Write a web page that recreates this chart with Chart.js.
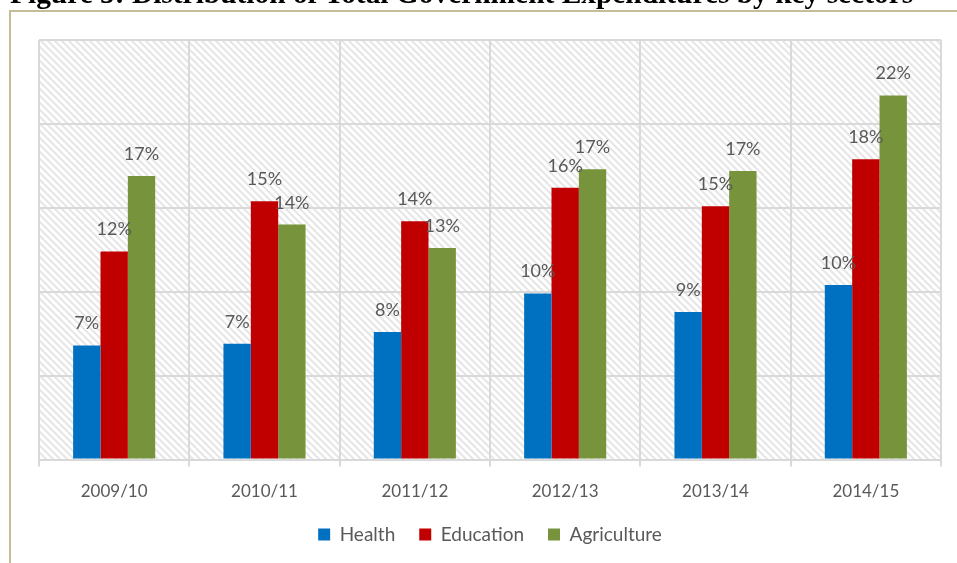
<!DOCTYPE html>
<html>
<head>
<meta charset="utf-8">
<script src="https://cdn.jsdelivr.net/npm/chart.js@4.4.1/dist/chart.umd.min.js"></script>
<style>
  html, body { margin: 0; padding: 0; background: #fff; overflow: hidden; }
  #wrap { position: relative; width: 957px; height: 563px; }
  #chart { position: absolute; left: 0; top: 0; }
  #title {
    position: absolute; left: 10px; top: -21px; white-space: nowrap;
    font-family: "Liberation Serif", serif; font-weight: bold; font-size: 24px;
    line-height: 1; color: #000;
  }
  .rule { position: absolute; background: #C4BD97; }
</style>
</head>
<body>
<div id="wrap">
  <canvas id="chart" width="957" height="563"></canvas>
  <div id="title">Figure 5: Distribution of Total Government Expenditures by key sectors</div>
  <div class="rule" style="left:9px; top:10px; width:948px; height:2px;"></div>
  <div class="rule" style="left:9px; top:10px; width:2px; height:553px;"></div>
</div>
<script>
const years = ["2009/10", "2010/11", "2011/12", "2012/13", "2013/14", "2014/15"];
const health = [6.8, 6.9, 7.6, 9.9, 8.8, 10.4];
const education = [12.4, 15.4, 14.2, 16.2, 15.1, 17.9];
const agriculture = [16.9, 14.0, 12.6, 17.3, 17.2, 21.7];
// labels shown on the bars (rounded like the source)
const healthLabels = ["7%", "7%", "8%", "10%", "9%", "10%"];
const educationLabels = ["12%", "15%", "14%", "16%", "15%", "18%"];
const agricultureLabels = ["17%", "14%", "13%", "17%", "17%", "22%"];

// fit the cropped title to its width in the picture
const title = document.getElementById("title");
title.style.fontSize = (24 * 903 / title.offsetWidth).toFixed(2) + "px";

const textColor = "#595959";
const gridColor = "#D9D9D9";

function hatch() {
  const c = document.createElement("canvas");
  c.width = 7; c.height = 7;
  const g = c.getContext("2d");
  g.fillStyle = "#fff";
  g.fillRect(0, 0, 7, 7);
  g.strokeStyle = "#E6E6E6";
  g.lineWidth = 2;
  g.beginPath();
  g.moveTo(-1, -1); g.lineTo(8, 8);
  g.moveTo(-8, -1); g.lineTo(1, 8);
  g.moveTo(6, -1); g.lineTo(15, 8);
  g.stroke();
  return g.createPattern(c, "repeat");
}

const plotBg = {
  id: "plotBg",
  beforeDraw(chart) {
    const { ctx, chartArea: a } = chart;
    ctx.save();
    ctx.fillStyle = hatch();
    ctx.fillRect(a.left, a.top, a.right - a.left, a.bottom - a.top);
    ctx.restore();
  },
};

const valueLabels = {
  id: "valueLabels",
  afterDatasetsDraw(chart) {
    const ctx = chart.ctx;
    ctx.save();
    ctx.font = "18px Lato";
    ctx.fillStyle = textColor;
    ctx.textAlign = "center";
    ctx.textBaseline = "alphabetic";
    chart.data.datasets.forEach((ds, i) => {
      chart.getDatasetMeta(i).data.forEach((bar, j) => {
        ctx.fillText(ds.valueText[j], bar.x, bar.y - 16);
      });
    });
    ctx.restore();
  },
};

new Chart(document.getElementById("chart"), {
  type: "bar",
  data: {
    labels: years,
    datasets: [
      { label: "Health", data: health, valueText: healthLabels, backgroundColor: "#0070C0" },
      { label: "Education", data: education, valueText: educationLabels, backgroundColor: "#C00000" },
      { label: "Agriculture", data: agriculture, valueText: agricultureLabels, backgroundColor: "#77933C" },
    ],
  },
  options: {
    responsive: false,
    animation: false,
    devicePixelRatio: 1,
    layout: { padding: { left: 39, right: 16, top: 40, bottom: 9 } },
    datasets: { bar: { categoryPercentage: 0.546, barPercentage: 1 } },
    scales: {
      x: {
        grid: { color: gridColor, lineWidth: 2, tickLength: 7, offset: true },
        border: { color: gridColor, width: 2 },
        ticks: { color: textColor, font: { family: "Lato", size: 17 }, padding: 15 },
        afterFit(axis) { axis.height -= 16; },
      },
      y: {
        min: 0, max: 25,
        ticks: { display: false, stepSize: 5 },
        grid: { color: gridColor, lineWidth: 2, drawTicks: false },
        border: { display: false },
      },
    },
    plugins: {
      legend: {
        position: "bottom",
        labels: {
          color: textColor, font: { family: "Lato", size: 19 },
          boxWidth: 12, boxHeight: 12, padding: 24,
        },
      },
      tooltip: { enabled: false },
    },
  },
  plugins: [plotBg, valueLabels],
});
</script>
</body>
</html>
